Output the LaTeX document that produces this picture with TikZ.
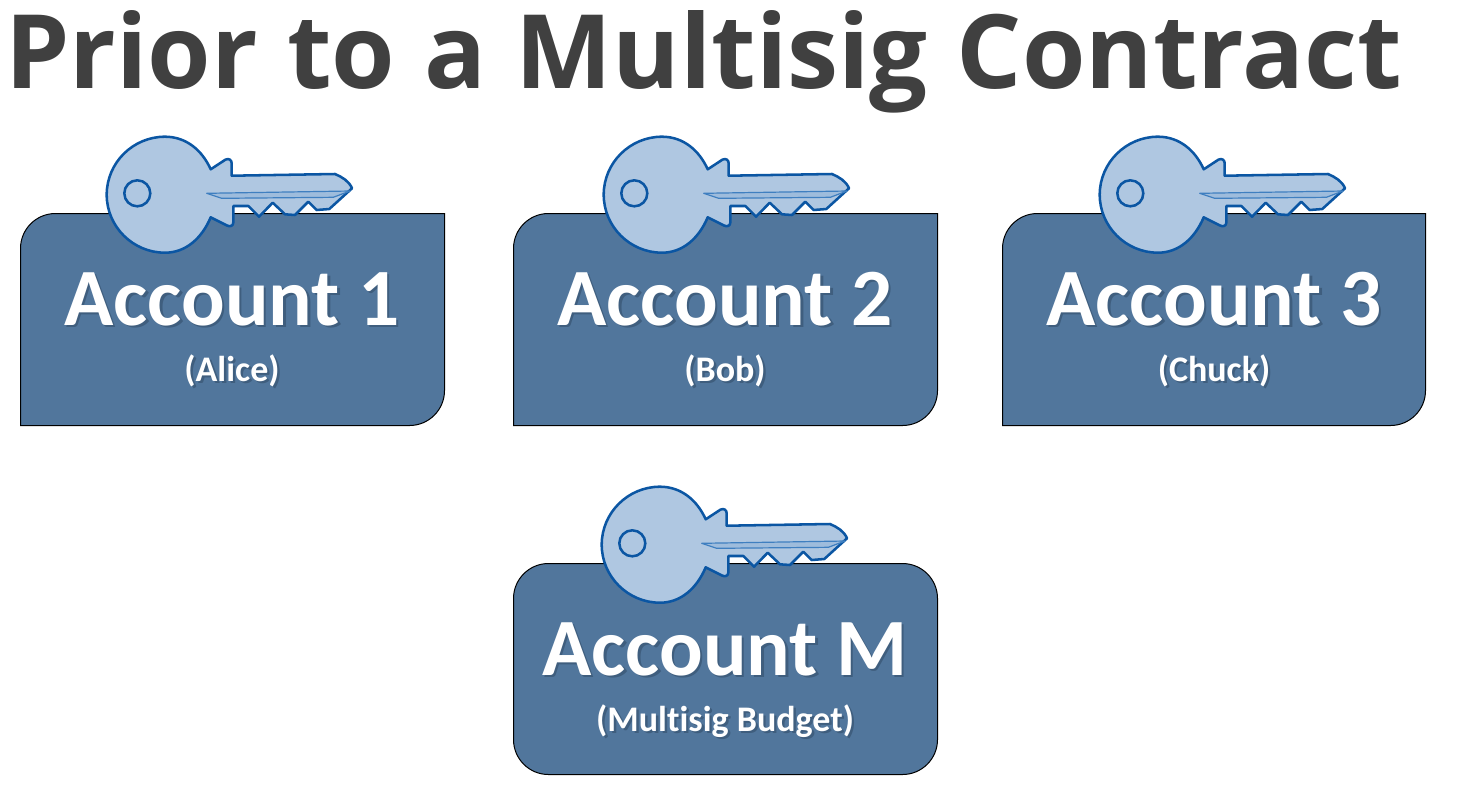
\documentclass[tikz,border=0pt]{standalone}
\usepackage{fontspec}
\setmainfont{Carlito}[Ligatures=NoCommon]
\newfontfamily\titlefont{Open Sans}
\definecolor{boxfill}{HTML}{51769C}
\definecolor{keyfill}{HTML}{AFC7E1}
\definecolor{keyline}{HTML}{0B56A3}
\definecolor{groove}{HTML}{3F7FC0}
\definecolor{titlecol}{HTML}{404040}
\definecolor{shadowcol}{HTML}{3F5E7E}
\newcommand{\shadowed}[1]{\leavevmode\rlap{\kern1.8pt\raisebox{-1.8pt}{\textcolor{shadowcol}{#1}}}#1}
\tikzset{
  x=0.75pt,y=-0.75pt,
  acctbox/.style={draw=black,line width=0.75pt,fill=boxfill},
  bigtext/.style={anchor=base,text=white,inner sep=0pt,font=\fontsize{61}{61}\selectfont\bfseries},
  subtext/.style={anchor=base,text=white,inner sep=0pt,font=\fontsize{27}{28}\selectfont\bfseries},
  keyicon/.pic={
    \draw[fill=keyfill,draw=keyline,line width=1.9pt,line join=round]
      (210.7,169.3) -- (225.5,159.6) .. controls (229,158) and (231.7,160) .. (231.7,163.5)
      -- (231.7,175.7) -- (335,174) .. controls (342,177) and (349,181) .. (352,188.3)
      -- (329.3,209) -- (316.7,210) -- (308.3,201.7) -- (295,215) -- (285,214.3)
      -- (272.7,202.7) -- (259,216.7) -- (248.3,206) -- (233.3,206) -- (233.3,222.5)
      .. controls (233.3,226) and (230,227) .. (227,225.5) -- (210.7,217.3)
      .. controls (202,238) and (186,252.7) .. (165,252.7)
      .. controls (133,252.7) and (106.7,226.7) .. (106.7,194.7)
      .. controls (106.7,162.7) and (133,136.7) .. (165,136.7)
      .. controls (186,136.7) and (202,150) .. (210.7,169.3) -- cycle;
    \draw[keyline,line width=1.9pt] (137.3,193.3) circle[radius=13];
    \draw[groove,line width=0.9pt,line join=round,fill=keyfill!85!groove]
      (206.7,193.3) -- (350,191) -- (333.3,197.3) -- (221.7,198.3) -- cycle;
  }
}
\begin{document}
\begin{tikzpicture}
\useasboundingbox (0,0) rectangle (1476,808);
\node[anchor=base west,inner sep=0pt,text=titlecol,font=\titlefont\fontsize{77}{80}\selectfont\bfseries] (title) at (5,88) {\spaceskip=\dimexpr\fontdimen2\font+2pt\relax Prior to a Multisig Contract};
% account boxes
\draw[acctbox] (20.5,425.5) -- (20.5,248.5) arc[start angle=180,end angle=90,x radius=35,y radius=-35] -- (444.5,213.5) -- (444.5,390.5) arc[start angle=0,end angle=-90,x radius=35,y radius=-35] -- cycle;
\draw[acctbox] (513.5,425.5) -- (513.5,248.5) arc[start angle=180,end angle=90,x radius=35,y radius=-35] -- (937.5,213.5) -- (937.5,390.5) arc[start angle=0,end angle=-90,x radius=35,y radius=-35] -- cycle;
\draw[acctbox] (1002.5,425.5) -- (1002.5,248.5) arc[start angle=180,end angle=90,x radius=35,y radius=-35] -- (1425.5,213.5) -- (1425.5,390.5) arc[start angle=0,end angle=-90,x radius=35,y radius=-35] -- cycle;
\draw[acctbox,rounded corners=26.25pt] (513.5,563.5) rectangle (937.5,774.5);
% keys
\pic at (0,0) {keyicon};
\pic at (497,0) {keyicon};
\pic at (993,0) {keyicon};
\pic at (495,350) {keyicon};
% labels
\node[bigtext] (a1) at (232,325) {\shadowed{Account 1}};
\node[subtext] (s1) at (232,381) {\shadowed{(Alice)}};
\node[bigtext] (a2) at (725,325) {\shadowed{Account 2}};
\node[subtext] (s2) at (725,381) {\shadowed{(Bob)}};
\node[bigtext] (a3) at (1214,325) {\shadowed{Account 3}};
\node[subtext] (s3) at (1214,381) {\shadowed{(Chuck)}};
\node[bigtext] (am) at (725,675) {\shadowed{Account M}};
\node[subtext] (sm) at (725,731) {\shadowed{(Multisig Budget)}};
\end{tikzpicture}
\end{document}
